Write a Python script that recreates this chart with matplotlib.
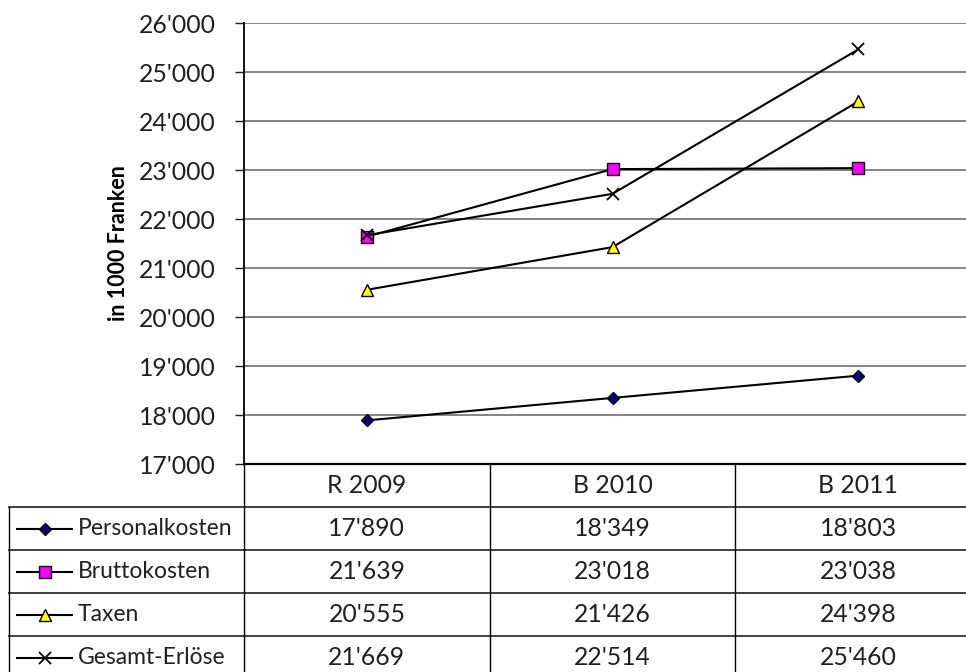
import matplotlib.pyplot as plt
from matplotlib.ticker import FuncFormatter, MultipleLocator

plt.rcParams['font.family'] = ['Lato', 'DejaVu Sans']

years = ['R 2009', 'B 2010', 'B 2011']
series = ['Personalkosten', 'Bruttokosten', 'Taxen', 'Gesamt-Erlöse']
personalkosten = [17890, 18349, 18803]
bruttokosten = [21639, 23018, 23038]
taxen = [20555, 21426, 24398]
gesamt_erloese = [21669, 22514, 25460]

values = [personalkosten, bruttokosten, taxen, gesamt_erloese]
styles = [
    dict(marker='D', ms=6.3, mfc='#000080'),
    dict(marker='s', ms=8.5, mfc='#FF00FF'),
    dict(marker='^', ms=9, mfc='#FFFF00'),
    dict(marker='x', ms=9, mfc='none', mew=1.3),
]
FS = 16.5       # labels
FS_NUM = 17.8   # numbers


def fmt(v, pos=None):
    return f"{int(round(v)):,}".replace(',', "'")


W, H = 966, 672
fig = plt.figure(figsize=(W / 100, H / 100), dpi=100)

# chart area; right side runs past the canvas edge
x0, x1 = 244, 981
ax = fig.add_axes([x0 / W, 1 - 464 / H, (x1 - x0) / W, (464 - 23) / H])
x = range(len(years))
for vals, st in zip(values, styles):
    kw = dict(color='black', lw=1.5, mec='black', mew=1.0)
    kw.update(st)
    ax.plot(x, vals, zorder=3, clip_on=False, **kw)

ax.set_xlim(-0.5, 2.5)
ax.set_ylim(17000, 26000)
ax.yaxis.set_major_locator(MultipleLocator(1000))
ax.yaxis.set_major_formatter(FuncFormatter(fmt))
ax.grid(axis='y', color='#707070', lw=1.2)
ax.set_axisbelow(True)
ax.set_xticks([])
ax.tick_params(axis='y', direction='out', length=6.5, width=1, pad=14,
               labelsize=FS_NUM, colors='#202020')
for s in ['top', 'right']:
    ax.spines[s].set_visible(False)
ax.spines['left'].set_linewidth(1.3)
ax.spines['bottom'].set_linewidth(1.6)
ax.set_ylabel('in 1000 Franken', fontsize=15.5, fontweight='bold', labelpad=7)

# data table under the chart, sharing the category columns
unit = (x1 - x0) / 3
left_col = -0.5 - (x0 - 9) / unit
row_h = 43
nrows = len(series) + 1
tab = fig.add_axes([9 / W, 1 - (464 + nrows * row_h) / H, (x1 - 9) / W, nrows * row_h / H])
tab.set_xlim(left_col, 2.5)
tab.set_ylim(nrows, 0)
tab.axis('off')

lc = '#404040'
for r in range(1, nrows + 1):
    tab.plot([left_col, 2.5], [r, r], color=lc, lw=1.4, clip_on=False)
tab.plot([left_col, left_col], [1, nrows], color='black', lw=1, clip_on=False)
for c in [-0.5, 0.5, 1.5]:
    tab.plot([c, c], [0, nrows], color='black', lw=1, clip_on=False)

for i, yr in enumerate(years):
    tab.text(i, 0.5, yr, ha='center', va='center', fontsize=FS_NUM, color='#202020')

key_a = left_col + 8 / unit
key_b = left_col + 63 / unit
for r, (name, vals, st) in enumerate(zip(series, values, styles), start=1):
    kw = dict(color='black', lw=1.5, mec='black', mew=1.0)
    kw.update(st)
    tab.plot([key_a, key_b], [r + 0.5] * 2, color='black', lw=1.5)
    tab.plot([(key_a + key_b) / 2], [r + 0.5], ls='none', **kw)
    tab.text(key_b + 6 / unit, r + 0.5, name, ha='left', va='center', fontsize=FS,
             color='#202020')
    for i, v in enumerate(vals):
        tab.text(i, r + 0.5, fmt(v), ha='center', va='center', fontsize=FS_NUM,
                 color='#202020')

fig.savefig('out.png', dpi=100)
